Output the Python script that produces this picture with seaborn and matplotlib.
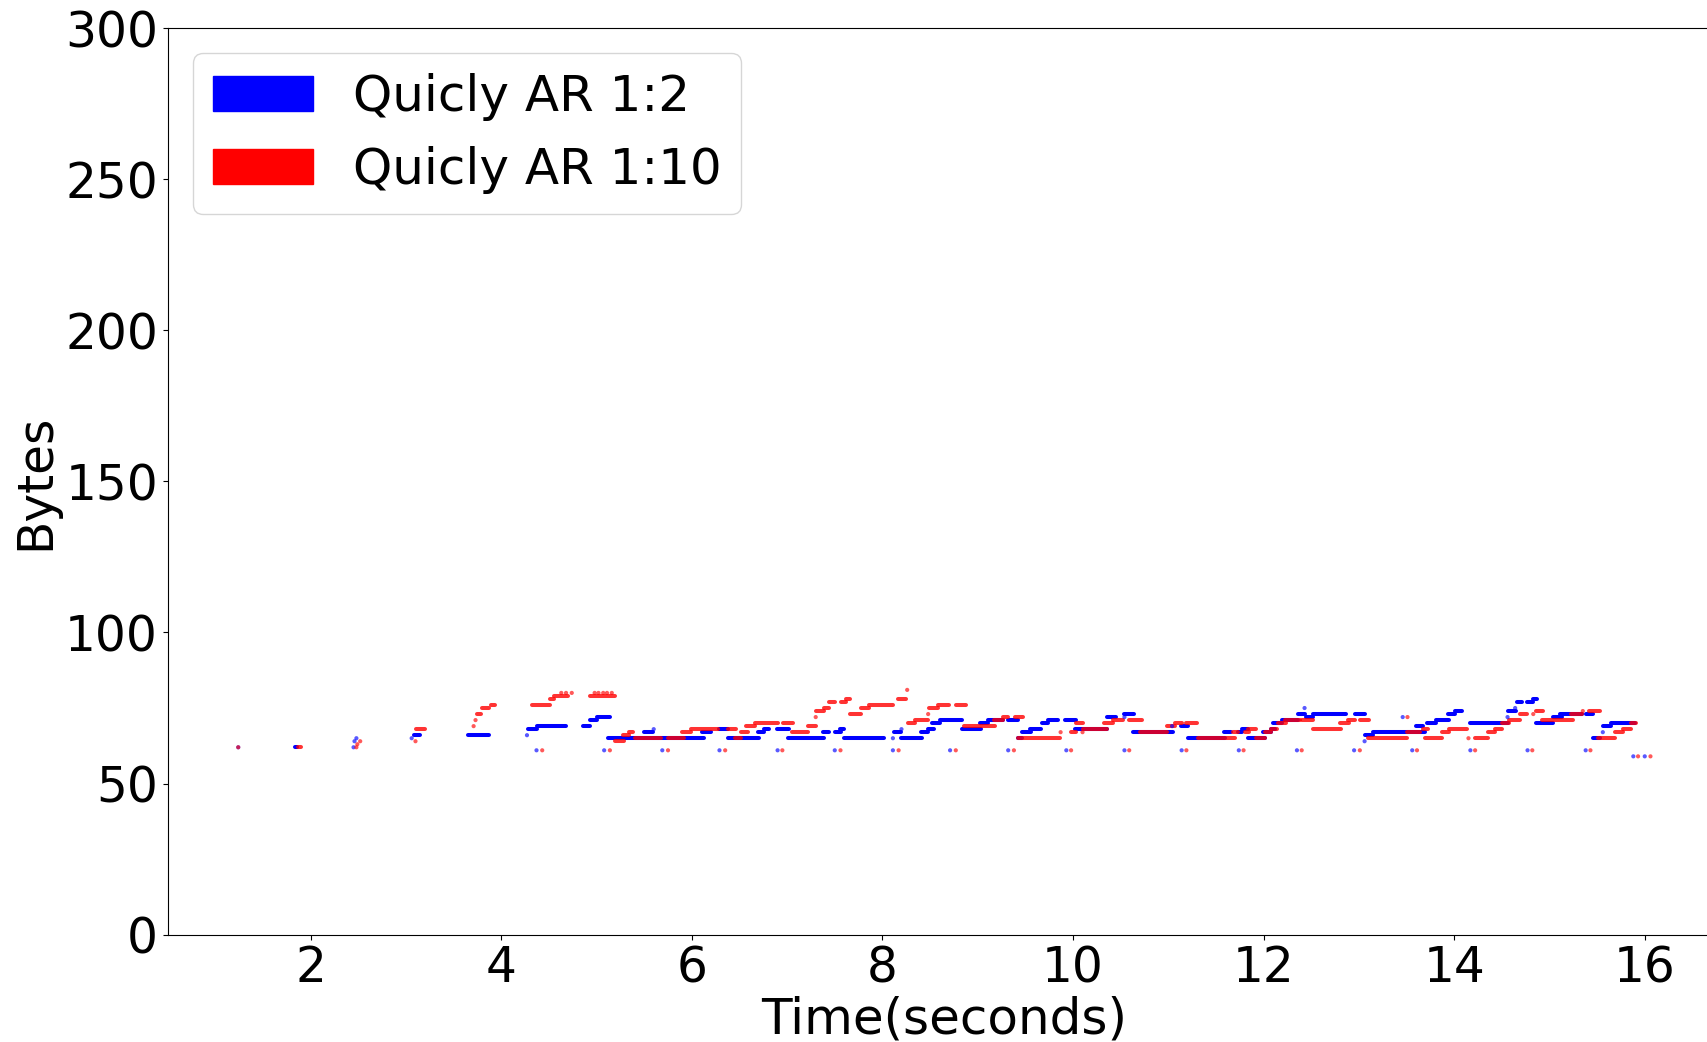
import matplotlib
matplotlib.use("Agg")
import matplotlib.pyplot as plt
import matplotlib.patches as mpatches
import seaborn as sns
import pandas as pd

# Packet size over time.
# Runs of consecutive samples at one size: start time, end time, bytes
blue_run_start = [1.84, 3.08, 3.65, 4.28, 4.37, 4.86, 4.93, 5.00, 5.12, 5.50,
                  6.11, 6.29, 6.38, 6.69, 6.76, 6.89, 7.01, 7.38, 7.50, 7.55,
                  7.60, 8.12, 8.20, 8.41, 8.48, 8.52, 8.60, 8.83, 9.02, 9.11,
                  9.32, 9.42, 9.47, 9.55, 9.67, 9.74, 9.92, 10.02, 10.36, 10.54,
                  10.63, 11.13, 11.21, 11.58, 11.73, 11.77, 11.84, 11.99, 12.08, 12.10,
                  12.19, 12.36, 12.45, 12.52, 12.96, 13.06, 13.15, 13.60, 13.71, 13.81,
                  13.94, 14.01, 14.17, 14.56, 14.66, 14.76, 14.83, 14.86, 15.04, 15.11,
                  15.38, 15.46, 15.56, 15.65]
blue_run_end = [1.86, 3.15, 3.87, 4.37, 4.68, 4.93, 5.00, 5.14, 6.13, 5.59,
                6.20, 6.38, 6.71, 6.76, 6.81, 7.02, 7.39, 7.44, 7.57, 7.60,
                8.02, 8.20, 8.42, 8.48, 8.54, 8.60, 8.83, 9.03, 9.11, 9.27,
                9.42, 9.47, 9.56, 9.66, 9.74, 9.84, 10.03, 10.36, 10.45, 10.64,
                11.05, 11.21, 11.59, 11.66, 11.77, 11.84, 12.01, 12.08, 12.12, 12.19,
                12.36, 12.43, 12.52, 12.87, 13.06, 13.15, 13.69, 13.67, 13.81, 13.95,
                14.01, 14.08, 14.57, 14.65, 14.71, 14.83, 14.87, 15.04, 15.13, 15.34,
                15.46, 15.53, 15.65, 15.90]
blue_run_bytes = [62, 66, 66, 68, 69, 69, 71, 72, 65, 67,
                  67, 68, 65, 67, 68, 68, 65, 67, 67, 68,
                  65, 67, 65, 67, 68, 70, 71, 68, 70, 71,
                  71, 65, 67, 68, 70, 71, 71, 68, 72, 73,
                  67, 69, 65, 67, 67, 68, 65, 67, 68, 70,
                  71, 73, 72, 73, 73, 66, 67, 69, 70, 71,
                  73, 74, 70, 74, 77, 77, 78, 70, 72, 73,
                  73, 65, 69, 70]

red_run_start = [1.87, 3.11, 3.75, 3.80, 3.89, 4.32, 4.51, 4.55, 4.93, 5.19,
                 5.28, 5.34, 5.40, 5.75, 5.90, 5.99, 6.38, 6.45, 6.52, 6.57,
                 6.66, 6.96, 7.05, 7.22, 7.30, 7.39, 7.44, 7.57, 7.62, 7.66,
                 7.78, 7.86, 8.16, 8.27, 8.34, 8.49, 8.58, 8.77, 8.86, 9.17,
                 9.27, 9.39, 9.42, 9.98, 10.03, 10.10, 10.33, 10.42, 10.59, 10.70,
                 10.99, 11.07, 11.19, 11.31, 11.68, 11.80, 11.84, 11.92, 12.01, 12.08,
                 12.15, 12.22, 12.40, 12.52, 12.80, 12.89, 13.01, 13.10, 13.50, 13.67,
                 13.69, 13.87, 13.95, 14.22, 14.36, 14.43, 14.50, 14.58, 14.69, 14.86,
                 14.92, 15.23, 15.42, 15.51, 15.69, 15.77, 15.86]
red_run_end = [1.90, 3.20, 3.79, 3.87, 3.93, 4.51, 4.55, 4.70, 5.19, 5.29,
               5.34, 5.38, 5.68, 5.92, 5.99, 6.27, 6.46, 6.52, 6.59, 6.66,
               6.90, 7.06, 7.22, 7.30, 7.39, 7.44, 7.50, 7.62, 7.66, 7.78,
               7.86, 8.11, 8.25, 8.34, 8.48, 8.58, 8.70, 8.88, 9.18, 9.27,
               9.32, 9.48, 9.86, 10.03, 10.10, 10.36, 10.42, 10.52, 10.72, 10.99,
               11.07, 11.14, 11.30, 11.70, 11.73, 11.85, 11.92, 12.01, 12.08, 12.14,
               12.24, 12.38, 12.52, 12.81, 12.90, 12.96, 13.11, 13.50, 13.64, 13.73,
               13.87, 13.95, 14.13, 14.36, 14.43, 14.50, 14.58, 14.69, 14.76, 14.93,
               15.25, 15.34, 15.53, 15.69, 15.77, 15.86, 15.91]
red_run_bytes = [62, 68, 73, 75, 76, 76, 78, 79, 79, 64,
                 66, 67, 65, 65, 67, 68, 68, 65, 67, 69,
                 70, 70, 67, 69, 74, 75, 77, 77, 78, 73,
                 75, 76, 78, 70, 71, 75, 76, 76, 69, 71,
                 72, 72, 65, 67, 70, 68, 70, 71, 71, 67,
                 69, 70, 70, 65, 67, 67, 68, 65, 67, 68,
                 70, 71, 71, 68, 70, 71, 71, 65, 67, 68,
                 65, 67, 68, 65, 67, 68, 70, 71, 73, 74,
                 71, 73, 74, 65, 67, 68, 70]

# Single samples
blue_pt_time = [1.24, 2.45, 2.46, 2.48, 3.06, 4.27, 5.60, 8.11, 8.20, 10.54,
                11.04, 12.43, 13.06, 13.46, 14.56, 14.64, 15.56,
                4.37, 5.08, 5.69, 6.29, 6.90, 7.50, 8.11, 8.71, 9.32, 9.93,
                10.54, 11.14, 11.74, 12.35, 12.95, 13.56, 14.17, 14.77, 15.38,
                15.88, 16.00]
blue_pt_bytes = [62, 62, 64, 65, 65, 66, 68, 65, 68, 72,
                 69, 75, 64, 72, 72, 75, 67,
                 61, 61, 61, 61, 61, 61, 61, 61, 61, 61,
                 61, 61, 61, 61, 61, 61, 61, 61, 61,
                 59, 59]

red_pt_time = [1.24, 2.48, 2.49, 2.52, 3.10, 3.71, 3.73, 4.63, 4.68, 4.74,
               4.98, 5.02, 5.07, 5.11, 5.16, 7.30, 8.26, 8.48, 9.87, 10.10,
               13.51, 14.15, 14.83, 15.35,
               4.43, 5.14, 5.75, 6.35, 6.95, 7.56, 8.17, 8.77, 9.38, 9.98,
               10.59, 11.19, 11.79, 12.40, 13.01, 13.61, 14.22, 14.82, 15.43,
               15.93, 16.06]
red_pt_bytes = [62, 62, 63, 64, 64, 69, 71, 80, 80, 80,
                80, 80, 80, 80, 80, 72, 81, 73, 67, 67,
                72, 65, 73, 74,
                61, 61, 61, 61, 61, 61, 61, 61, 61, 61,
                61, 61, 61, 61, 61, 61, 61, 61, 61,
                59, 59]

series_names = ["Quicly AR 1:2", "Quicly AR 1:10"]
series_colors = ["blue", "red"]

sns.set_style("ticks")
plt.rcParams['font.family'] = ['DejaVu Sans']
plt.rcParams['font.size'] = 35
# plain black text and axes, like default matplotlib
for k in ['text.color', 'axes.labelcolor', 'xtick.color', 'ytick.color', 'axes.edgecolor']:
    plt.rcParams[k] = 'black'

fig = plt.figure(figsize=(17.08, 10.42), dpi=100)
ax = fig.add_axes([0.0982, 0.1031, 0.9094, 0.8697])

# runs of samples
ax.hlines(blue_run_bytes, blue_run_start, blue_run_end, colors="blue",
          linewidth=2.9, capstyle="round", zorder=2)
ax.hlines(red_run_bytes, red_run_start, red_run_end, colors="red",
          linewidth=2.9, capstyle="round", alpha=0.8, zorder=3)

# single samples
pts = pd.DataFrame({
    "time": blue_pt_time + red_pt_time,
    "bytes": blue_pt_bytes + red_pt_bytes,
    "series": [series_names[0]] * len(blue_pt_time) + [series_names[1]] * len(red_pt_time),
})
sns.scatterplot(data=pts, x="time", y="bytes", hue="series",
                palette=dict(zip(series_names, series_colors)),
                s=9, linewidth=0, alpha=0.65, legend=False, ax=ax, zorder=4)

ax.set_xlim(0.5, 16.8)
ax.set_ylim(0, 300)
ax.set_xticks(range(2, 17, 2))
ax.set_yticks(range(0, 301, 50))
ax.tick_params(labelsize=35, colors='black')
ax.set_xlabel("Time(seconds)", fontsize=36, labelpad=2)
ax.set_ylabel("Bytes", fontsize=35)

handles = [mpatches.Patch(color=c, label=n) for n, c in zip(series_names, series_colors)]
ax.legend(handles=handles, loc="upper left", fontsize=36)

fig.savefig("out.png", dpi=100)
